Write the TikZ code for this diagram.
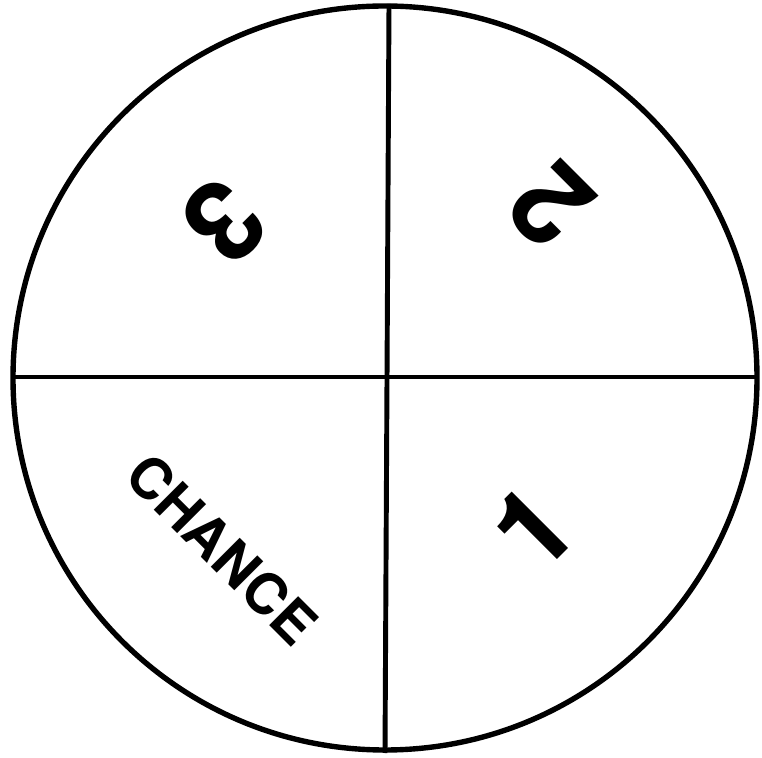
\documentclass[tikz,border=0pt]{standalone}
\usepackage{fontspec}
\setmainfont{TeX Gyre Heros}
\usepackage{tikz}
\usetikzlibrary{positioning}

\begin{document}
\begin{tikzpicture}[
  x=0.03cm, y=0.03cm,
  rim/.style={line width=4.6pt, draw=black},
  divider/.style={line width=4.2pt, draw=black},
  digit/.style={font=\bfseries\fontsize{96}{96}\selectfont, inner sep=0pt},
  word/.style={font=\bfseries\fontsize{48}{48}\selectfont, inner sep=0pt}
]
  \useasboundingbox (0,0) rectangle (762,757);

  % the wheel and its four sectors
  \coordinate (hub) at (385,379);
  \draw[rim] (hub) circle (372);
  \coordinate (top) at (389,753);
  \coordinate (bottom) at (385,4);
  \coordinate (left) at (13,380);
  \coordinate (right) at (757,380);
  \draw[divider] (top) -- (bottom);
  \draw[divider] (left) -- (right);

  % sector labels
  \node[digit, rotate=-135] (three) at (224,535) {3};
  \node[digit, rotate=135] (two) at (551,552) {2};
  \node[digit, rotate=45] (one) at (532,229) {1};
  \node[word, rotate=-45] (chance) at (222,208) {CHANCE};
\end{tikzpicture}
\end{document}
